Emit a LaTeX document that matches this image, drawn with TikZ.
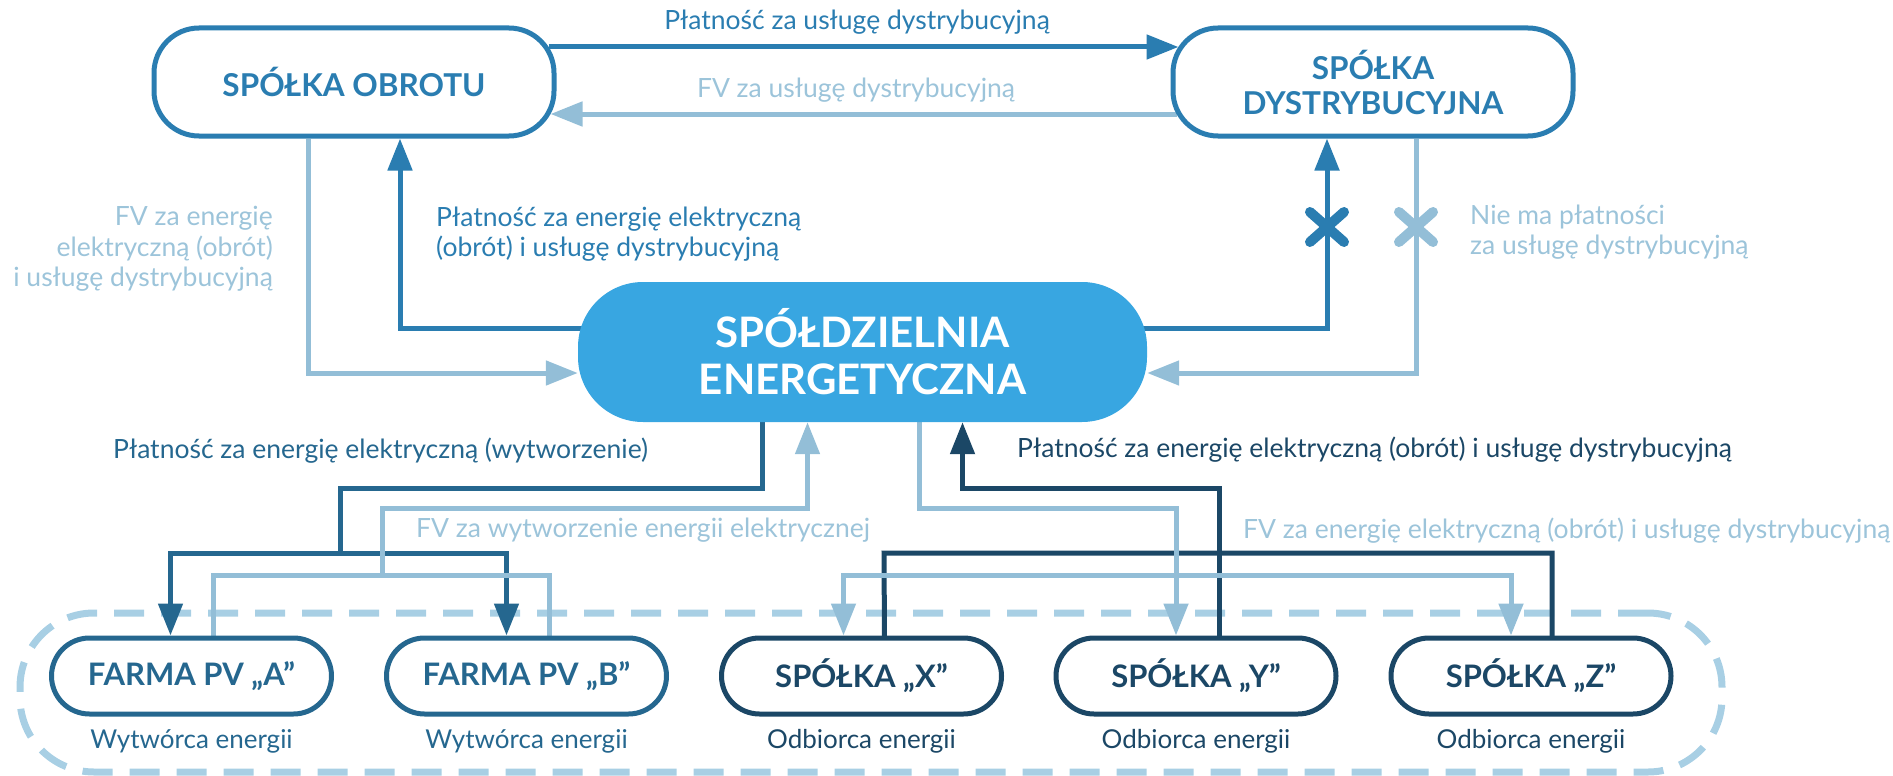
\documentclass[tikz,border=0pt]{standalone}
\usepackage{fontspec}
\setmainfont{Lato}
\usetikzlibrary{arrows.meta,calc}
\definecolor{cTop}{HTML}{2A7DB1}
\definecolor{cLight}{HTML}{93BED7}
\definecolor{cLightTxt}{HTML}{9CC4DA}
\definecolor{cSE}{HTML}{38A6E1}
\definecolor{cMid}{HTML}{25678F}
\definecolor{cNavy}{HTML}{1B4766}
\definecolor{cDash}{HTML}{A8CFE4}
\pgfdeclarelayer{back}
\pgfdeclarelayer{bg}
\pgfsetlayers{back,bg,main}
\tikzset{
  box/.style={draw, line width=5pt, fill=white, align=center, inner sep=0pt},
  topbox/.style={box, draw=cTop, text=cTop, minimum width=400pt, minimum height=108pt,
     rounded corners=45pt, font=\bfseries\fontsize{31.5}{35}\selectfont},
  botbox/.style={box, minimum width=280pt, minimum height=76pt, rounded corners=38pt,
     font=\bfseries\fontsize{31}{35}\selectfont},
  midbox/.style={botbox, draw=cMid, text=cMid},
  navybox/.style={botbox, draw=cNavy, text=cNavy},
  sebox/.style={fill=cSE, text=white, minimum width=569pt, minimum height=140pt,
     rounded corners=65pt, align=center, inner sep=0pt,
     font=\bfseries\fontsize{42}{47}\selectfont},
  lbl/.style={font=\fontsize{26.5}{30.5}\selectfont, inner sep=0pt, text height=0.72em, text depth=0.22em},
  mlbl/.style={font=\fontsize{26.5}{30.5}\selectfont, inner sep=0pt},
  sublbl/.style={lbl, font=\fontsize{26}{30}\selectfont},
  conn/.style={line width=5pt},
  arr/.style={conn, -{Triangle[length=32pt,width=24pt]}},
  xmark/.style={line width=10pt, line cap=round},
  frame/.style={draw=cDash, line width=7pt, dash pattern=on 30pt off 17pt, rounded corners=74pt,
     minimum width=1702pt, minimum height=159pt, inner sep=0pt}
}
\begin{document}
\begin{tikzpicture}[x=1pt,y=-1pt]
\useasboundingbox (0,0) rectangle (1893,776);
% nodes
\node[topbox] (obrot) at (354,82) {SPÓŁKA OBROTU};
\node[topbox] (dystr) at (1373,82) {SPÓŁKA\\DYSTRYBUCYJNA};
\node[sebox] (se) at (862.5,352) {SPÓŁDZIELNIA\\ENERGETYCZNA};
\node[midbox] (fa) at (191.5,676) {FARMA PV „A”};
\node[midbox] (fb) at (526.5,676) {FARMA PV „B”};
\node[navybox] (fx) at (861.5,676) {SPÓŁKA „X”};
\node[navybox] (fy) at (1196,676) {SPÓŁKA „Y”};
\node[navybox] (fz) at (1531,676) {SPÓŁKA „Z”};
\begin{pgfonlayer}{back}
\node[frame] (grp) at (871,692.5) {};
\end{pgfonlayer}
% connectors
\begin{pgfonlayer}{bg}
\draw[arr,cTop] ($(obrot.east)+(-8,-35)$) -- ($(dystr.west)+(8,-35)$);
\draw[arr,cLight] ($(dystr.west)+(6,32)$) -- ($(obrot.east)+(-6,32)$);
\draw[arr,cTop] ($(se.west)+(10,-24)$) -| ($(obrot.south)+(46,0)$);
\draw[arr,cLight] ($(obrot.south)+(-46,0)$) |- ($(se.west)+(0,21)$);
\draw[arr,cTop] ($(se.east)+(-10,-24)$) -| ($(dystr.south)+(-46,0)$);
\draw[arr,cLight] ($(dystr.south)+(43,0)$) |- ($(se.east)+(0,21)$);
% producers
\coordinate (dm1) at (340,488);
\coordinate (dm2) at (340,553);
\draw[conn,cMid] ($(se.south)+(-100,-5)$) |- (dm1) -- (dm2);
\draw[arr,cMid] (dm2) -| ($(fa.north)+(-21,0)$);
\draw[arr,cMid] (dm2) -| ($(fb.north)+(-20,0)$);
\coordinate (lm1) at (382,575);
\coordinate (lm2) at (382,508);
\draw[conn,cLight] ($(fa.north)+(22,5)$) |- (lm1);
\draw[conn,cLight] ($(fb.north)+(23,5)$) |- (lm1);
\draw[arr,cLight] (lm1) -- (lm2) -| ($(se.south)+(-55,0)$);
% consumers
\coordinate (nL) at (884,553);
\coordinate (nR) at (1552,553);
\draw[conn,cNavy] ($(fx.north)+(23,5)$) -- (nL) -- (nR) -- ($(fz.north)+(21,5)$);
\coordinate (nY) at (1219,488);
\draw[arr,cNavy] ($(fy.north)+(23,5)$) -- (nY) -| ($(se.south)+(100,0)$);
\coordinate (lr1) at (1176,508);
\coordinate (lr2) at (1176,575);
\draw[arr,cLight] ($(se.south)+(57,-5)$) |- (lr1) -- ($(fy.north)+(-20,0)$);
\draw[arr,cLight] (lr2) -| ($(fx.north)+(-18,0)$);
\draw[arr,cLight] (lr2) -| ($(fz.north)+(-20,0)$);
\end{pgfonlayer}
% X marks
\coordinate (xa) at (1327,227);
\coordinate (xb) at (1416,227);
\draw[xmark,cTop] ($(xa)+(-17,-15)$) -- ($(xa)+(17,15)$);
\draw[xmark,cTop] ($(xa)+(-17,15)$) -- ($(xa)+(17,-15)$);
\draw[xmark,cLight] ($(xb)+(-17,-15)$) -- ($(xb)+(17,15)$);
\draw[xmark,cLight] ($(xb)+(-17,15)$) -- ($(xb)+(17,-15)$);
% labels
\node[lbl,text=cTop] (l1) at (857,27) {Płatność za usługę dystrybucyjną};
\node[lbl,text=cLightTxt] (l2) at (856,95) {FV za usługę dystrybucyjną};
\node[mlbl,text=cLightTxt,align=right,anchor=east] (l3) at (273,249) {FV za energię\\elektryczną (obrót)\\i usługę dystrybucyjną};
\node[mlbl,text=cTop,align=left,anchor=west] (l4) at (436,234) {Płatność za energię elektryczną\\(obrót) i usługę dystrybucyjną};
\node[mlbl,text=cLightTxt,align=left,anchor=west] (l5) at (1470,232) {Nie ma płatności\\za usługę dystrybucyjną};
\node[lbl,text=cMid,anchor=west] (l6) at (113,456) {Płatność za energię elektryczną (wytworzenie)};
\node[lbl,text=cLightTxt,anchor=west] (l7) at (416,535) {FV za wytworzenie energii elektrycznej};
\node[lbl,text=cNavy,anchor=west] (l8) at (1017,455) {Płatność za energię elektryczną (obrót) i usługę dystrybucyjną};
\node[lbl,text=cLightTxt,anchor=west] (l9) at (1243,536) {FV za energię elektryczną (obrót) i usługę dystrybucyjną};
\node[sublbl,text=cMid] (sa) at (191.5,746) {Wytwórca energii};
\node[sublbl,text=cMid] (sb) at (526.5,746) {Wytwórca energii};
\node[sublbl,text=cNavy] (sx) at (861.5,746) {Odbiorca energii};
\node[sublbl,text=cNavy] (sy) at (1196,746) {Odbiorca energii};
\node[sublbl,text=cNavy] (sz) at (1531,746) {Odbiorca energii};
\end{tikzpicture}
\end{document}
